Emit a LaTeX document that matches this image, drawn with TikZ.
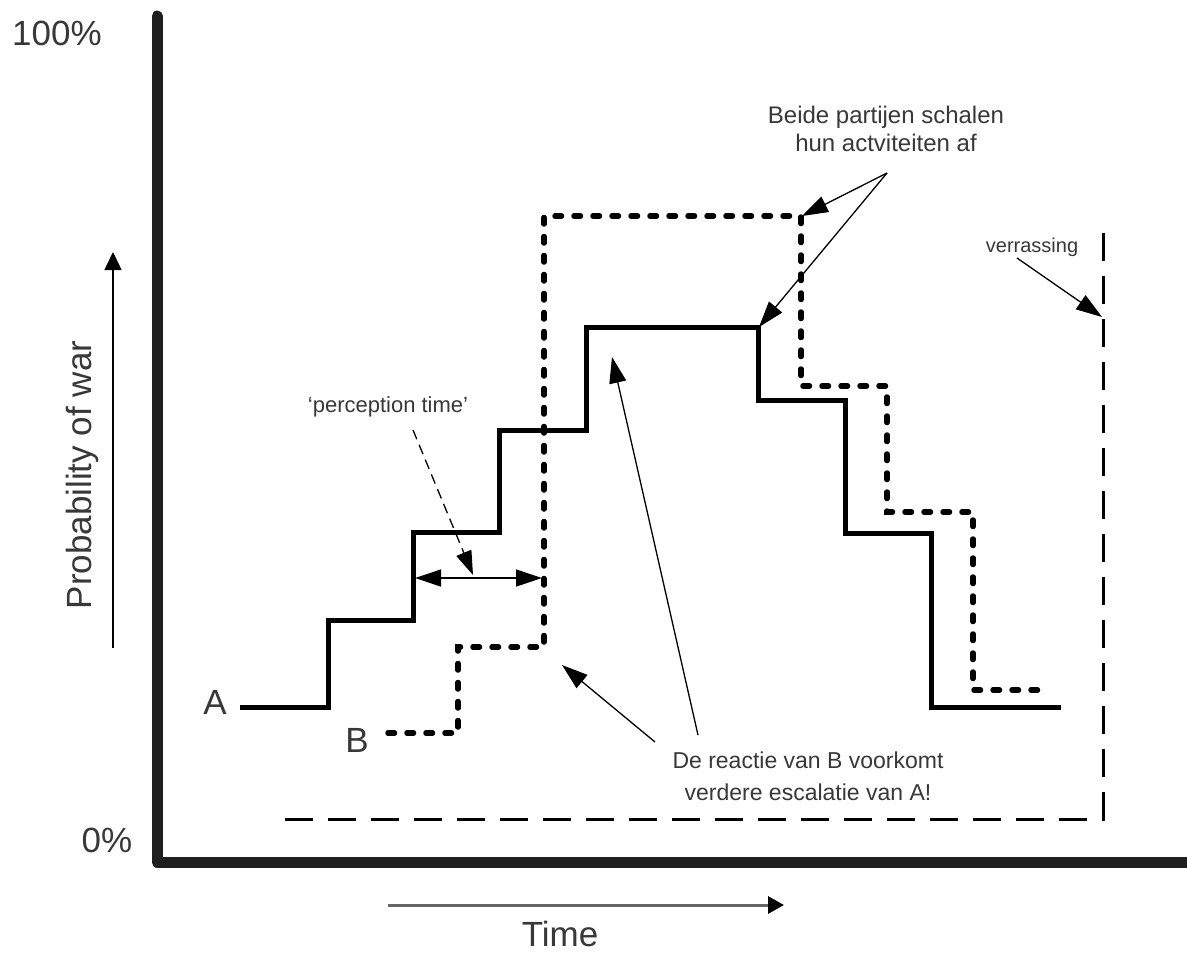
\documentclass[tikz,border=0pt]{standalone}
\usepackage{fontspec}
\setmainfont{Liberation Sans}
\usetikzlibrary{arrows.meta}
\tikzset{bigtip/.tip={Triangle[length=26pt,width=17pt]}}
\begin{document}
\begin{tikzpicture}[x=1pt,y=-1pt,
  txt/.style={text=black!78, inner sep=0pt, align=center},
  big/.style={txt, font=\fontsize{35}{42}\selectfont},
  axisline/.style={line width=11pt, draw=black!88, line cap=round, line join=round},
  lineA/.style={line width=5pt, line join=miter},
  lineB/.style={line width=5.5pt, dash pattern=on 6.5pt off 12.5pt, line cap=round},
  lineC/.style={line width=3pt, dash pattern=on 28pt off 15pt},
  note/.style={line width=1.3pt, -bigtip},
]
\useasboundingbox[fill=white] (0,0) rectangle (1187,953);

% axes
\coordinate (ytop) at (157,16);
\coordinate (origin) at (157,862);
\coordinate (xend) at (1195,862);
\draw[axisline] (ytop) -- (origin) -- (xend);

% curve A (solid)
\draw[lineA] (240,707) -- (328,707) -- (328,620) -- (413,620) -- (413,532)
  -- (499,532) -- (499,430) -- (586,430) -- (586,327) -- (758,327)
  -- (758,400) -- (845,400) -- (845,533) -- (931,533) -- (931,707) -- (1061,707);

% curve B (dotted)
\draw[lineB] (388,733) -- (458,733) -- (458,647) -- (544,647) -- (544,216)
  -- (801,216) -- (801,386) -- (887,386) -- (887,512) -- (973,512)
  -- (973,690) -- (1043,690);

% surprise (long dashes)
\draw[lineC] (285,819) -- (1103,819) -- (1103,220);

% labels
\node[big] (p100) at (57,33) {100\%};
\node[big] (p0) at (107,840) {0\%};
\node[big, rotate=90] (prob) at (82,475) {Probability of war};
\node[big, anchor=base] (time) at (560,946) {Time};
\node[big] (labA) at (215,702) {A};
\node[big] (labB) at (357,740) {B};
\node[txt, font=\fontsize{22}{28}\selectfont] (perc) at (388,407) {‘perception time’};
\node[txt, font=\fontsize{24}{28}\selectfont] (beide) at (886,129) {Beide partijen schalen\\hun actviteiten af};
\node[txt, font=\fontsize{20}{24}\selectfont] (verr) at (1032,247) {verrassing};
\node[txt, font=\fontsize{23}{32}\selectfont] (reactie) at (808,776) {De reactie van B voorkomt\\verdere escalatie van A!};

% axis direction arrows
\coordinate (pa1) at (113,648);
\coordinate (pa2) at (113,252);
\draw[line width=1.5pt, -{Triangle[length=18pt,width=17pt]}] (pa1) -- (pa2);
\coordinate (ta1) at (388,905);
\coordinate (ta2) at (784,905);
\draw[line width=3pt, draw=black!60, -{Triangle[length=16pt,width=17pt,color=black]}] (ta1) -- (ta2);

% perception time
\coordinate (pt1) at (415,578);
\coordinate (pt2) at (542,578);
\draw[line width=1.3pt, bigtip-bigtip] (pt1) -- (pt2);
\coordinate (pd1) at (413,430);
\coordinate (pd2) at (473,575);
\draw[line width=1.3pt, dash pattern=on 10pt off 6pt, -{Triangle[length=24pt,width=16pt]}] (pd1) -- (pd2);

% Beide partijen
\coordinate (bt) at (887,173);
\coordinate (bB) at (802,216);
\coordinate (bA) at (759,327);
\draw[note] (bt) -- (bB);
\draw[note] (bt) -- (bA);

% verrassing
\coordinate (vt) at (1017,258);
\coordinate (vh) at (1102,317);
\draw[note] (vt) -- (vh);

% De reactie
\coordinate (r1) at (655,742);
\coordinate (r1h) at (562,665);
\coordinate (r2) at (698,735);
\coordinate (r2h) at (612,357);
\draw[note] (r1) -- (r1h);
\draw[note] (r2) -- (r2h);
\end{tikzpicture}
\end{document}
